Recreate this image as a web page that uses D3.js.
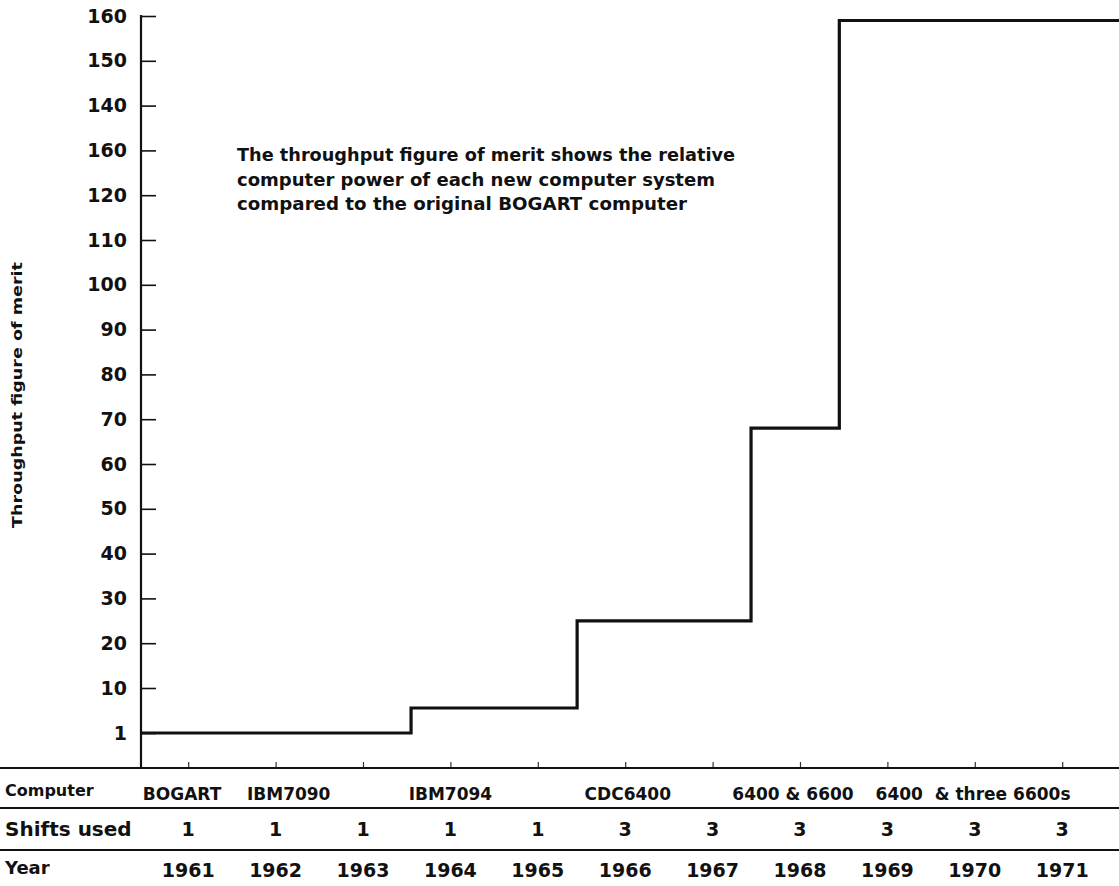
<!DOCTYPE html>
<html>
<head>
<meta charset="utf-8">
<script src="https://cdn.jsdelivr.net/npm/d3@7"></script>
<style>
  html, body { margin: 0; padding: 0; background: #fff; }
  svg { display: block; }
  text { font-family: "DejaVu Sans", "Liberation Sans", sans-serif; font-weight: bold; fill: #111; }
</style>
</head>
<body>
<svg id="chart" width="1119" height="886"></svg>
<script>
// ---------- data ----------
const years = [1961, 1962, 1963, 1964, 1965, 1966, 1967, 1968, 1969, 1970, 1971];
const yearLabels = ["1961", "1962", "1963", "1964", "1965", "1966", "1967", "1968", "1969", "1970", "1971"];
const shifts = [1, 1, 1, 1, 1, 3, 3, 3, 3, 3, 3];
const computers = ["BOGART", "IBM7090", "IBM7094", "CDC6400", "6400 & 6600", "6400  & three 6600s"];
const computerYear = [1960.93, 1962.15, 1964.0, 1966.03, 1967.92, 1969.98];
// step series: level i holds from stepStart[i] to stepStart[i+1]
const stepStart = [1960.46, 1963.55, 1965.45, 1967.44, 1968.45, 1971.65];
const stepLevel = [1, 6, 25, 68, 159];
const yTickValues = [1, 10, 20, 30, 40, 50, 60, 70, 80, 90, 100, 110, 120, 130, 140, 150, 160];
const yTickLabels = ["1", "10", "20", "30", "40", "50", "60", "70", "80", "90", "100", "110", "120", "160", "140", "150", "160"];
const noteLines = [
  "The throughput figure of merit shows the relative",
  "computer power of each new computer system",
  "compared to the original BOGART computer"
];
const yTitle = "Throughput figure of merit";

// ---------- layout ----------
const W = 1119, H = 886;
const axisX = 141, baseY = 768, row2Y = 808, row3Y = 850;

const svg = d3.select("#chart");

const x = d3.scaleLinear().domain([stepStart[0], stepStart[stepStart.length - 1]]).range([axisX, W]);
// printed scale: "1" sits one tick step below "10"
const y = d3.scaleLinear().domain([1, 10, 160]).range([733, 688, 16]);

// y axis
const yAxis = d3.axisLeft(y)
  .tickValues(yTickValues)
  .tickFormat((d, i) => yTickLabels[i])
  .tickSizeInner(-15)
  .tickSizeOuter(0)
  .tickPadding(14);
const gy = svg.append("g").attr("transform", `translate(${axisX},0)`).call(yAxis);
gy.select(".domain").remove();
gy.selectAll(".tick line").attr("stroke", "#111").attr("stroke-width", 1.6);
gy.selectAll(".tick text").attr("font-size", 19).attr("font-family", "DejaVu Sans").attr("font-weight", "bold").attr("fill", "#111");

svg.append("line")
  .attr("x1", axisX).attr("x2", axisX)
  .attr("y1", y(160) - 1).attr("y2", baseY)
  .attr("stroke", "#111").attr("stroke-width", 2.2);

// y title
svg.append("text")
  .attr("transform", `translate(22,395) rotate(-90)`)
  .attr("text-anchor", "middle")
  .attr("font-size", 14)
  .attr("textLength", 266)
  .attr("lengthAdjust", "spacingAndGlyphs")
  .text(yTitle);

// x axis small ticks
const xAxis = d3.axisTop(x).tickValues(years).tickSize(5).tickFormat("");
const gx = svg.append("g").attr("transform", `translate(0,${baseY - 1})`).call(xAxis);
gx.select(".domain").remove();
gx.selectAll(".tick line").attr("stroke", "#333").attr("stroke-width", 1.2);

// table lines
[baseY, row2Y, row3Y].forEach(yy => {
  svg.append("line")
    .attr("x1", 0).attr("x2", W)
    .attr("y1", yy).attr("y2", yy)
    .attr("stroke", "#111").attr("stroke-width", 2.2);
});

// step line
const pts = stepLevel.map((v, i) => [stepStart[i], v]);
pts.push([stepStart[stepStart.length - 1], stepLevel[stepLevel.length - 1]]);
const line = d3.line().x(d => x(d[0])).y(d => y(d[1])).curve(d3.curveStepAfter);
svg.append("path")
  .attr("d", line(pts))
  .attr("fill", "none")
  .attr("stroke", "#111")
  .attr("stroke-width", 3.2)
  .attr("stroke-linejoin", "miter");

// annotation
const noteWidths = [498, 478, 450];
svg.append("g").selectAll("text").data(noteLines).join("text")
  .attr("x", 237)
  .attr("y", (d, i) => 161 + i * 24.5)
  .attr("font-size", 17)
  .attr("textLength", (d, i) => noteWidths[i])
  .attr("lengthAdjust", "spacingAndGlyphs")
  .text(d => d);

// table row labels
svg.append("text").attr("x", 5).attr("y", 796).attr("font-size", 16).text("Computer");
svg.append("text").attr("x", 5).attr("y", 836).attr("font-size", 20).text("Shifts used");
svg.append("text").attr("x", 5).attr("y", 874).attr("font-size", 18).text("Year");

// computer names
svg.append("g").selectAll("text").data(computers).join("text")
  .attr("x", (d, i) => x(computerYear[i]))
  .attr("y", 800)
  .attr("text-anchor", "middle")
  .attr("font-size", 17)
  .attr("xml:space", "preserve")
  .style("white-space", "pre")
  .text(d => d);

// shifts
svg.append("g").selectAll("text").data(shifts).join("text")
  .attr("x", (d, i) => x(years[i]))
  .attr("y", 836)
  .attr("text-anchor", "middle")
  .attr("font-size", 19)
  .text(d => d);

// years
svg.append("g").selectAll("text").data(yearLabels).join("text")
  .attr("x", (d, i) => x(years[i]))
  .attr("y", 877)
  .attr("text-anchor", "middle")
  .attr("font-size", 19)
  .text(d => d);
</script>
</body>
</html>
